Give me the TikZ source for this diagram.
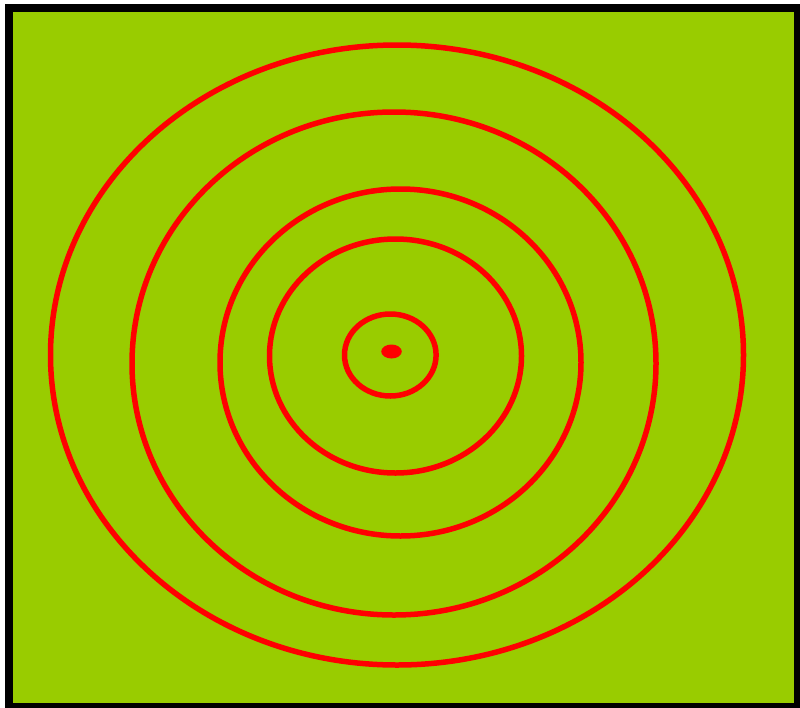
\documentclass[tikz,border=0pt]{standalone}
\usepackage{tikz}

\definecolor{fieldgreen}{HTML}{99CC00}
\definecolor{ringred}{HTML}{FF0000}

\begin{document}
\begin{tikzpicture}[
    x=1pt, y=-1pt,
    frame/.style={draw=black, fill=fieldgreen, line width=8pt},
    ring/.style={draw=ringred, line width=5.5pt}
]
    \useasboundingbox (0, 0) rectangle (800, 707);
    \clip (0, 0) rectangle (800, 707);
    \draw [frame] (9, 8) rectangle (798, 707);

    % rings: centre x, centre y, x radius, y radius
    \foreach \cx/\cy/\rx/\ry in {397/355/346.5/310, 394/363.5/262/251.5,
        400.5/362.5/180.5/173.5, 395.5/356/126/117, 390.3/355/45.8/41}
        \draw [ring] (\cx, \cy) ellipse [x radius=\rx, y radius=\ry];

    \fill [ringred] (391.5, 351.5) ellipse [x radius=10.3, y radius=7];
\end{tikzpicture}
\end{document}
